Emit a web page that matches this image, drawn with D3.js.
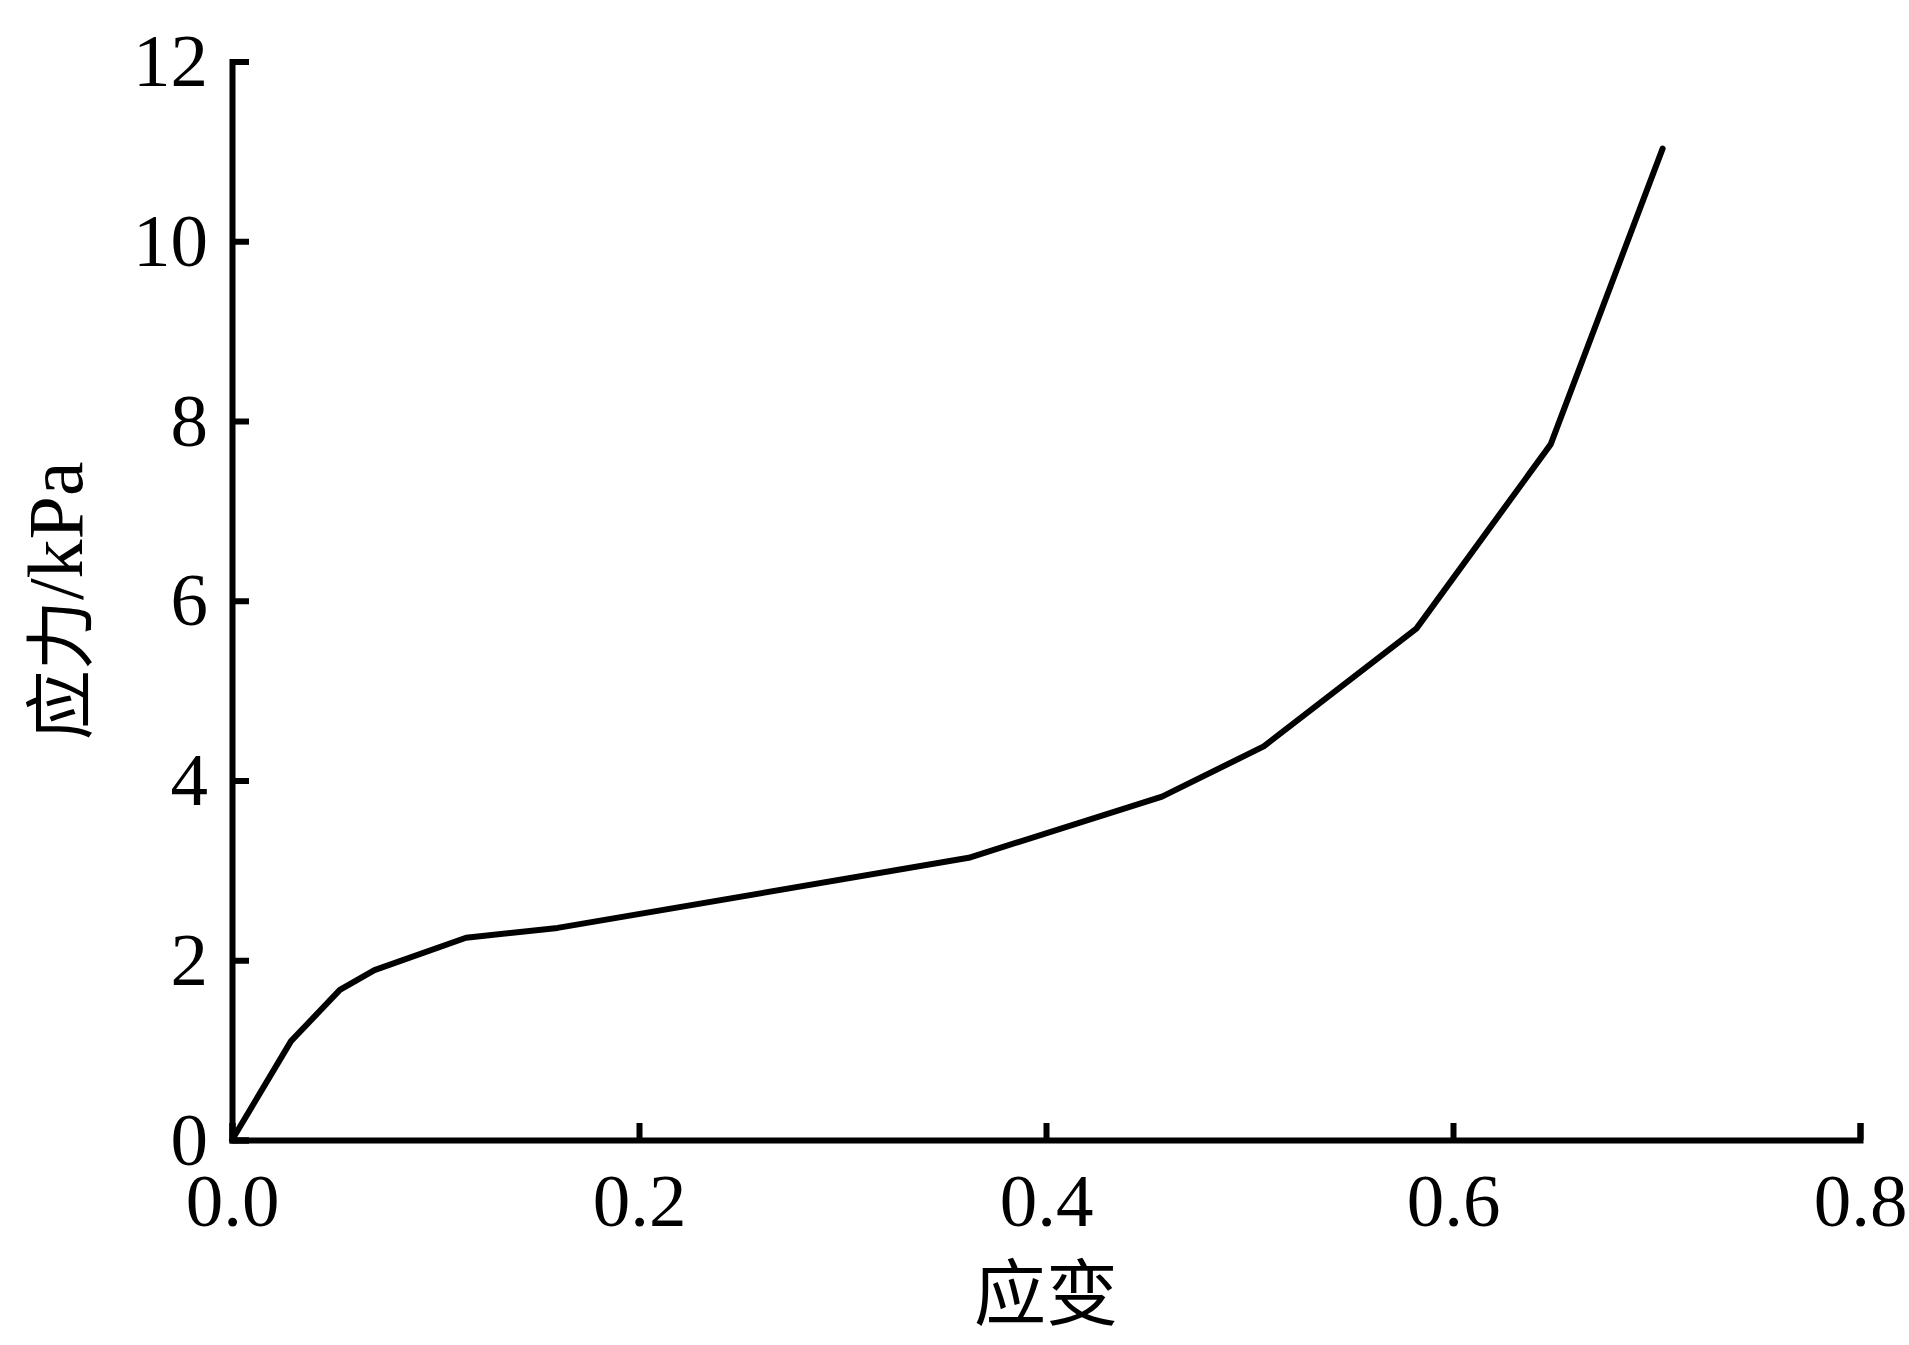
<!DOCTYPE html>
<html>
<head>
<meta charset="utf-8">
<script src="https://cdn.jsdelivr.net/npm/d3@7"></script>
<style>
  body { margin: 0; background: #fff; }
</style>
</head>
<body>
<div id="chart"></div>
<script>
// values
const strain = [0, 0.029, 0.053, 0.070, 0.115, 0.160, 0.362, 0.457, 0.507, 0.582, 0.648, 0.703];
const stress = [0, 1.10, 1.67, 1.89, 2.25, 2.36, 3.14, 3.82, 4.38, 5.69, 7.74, 11.03];
const xTicks = [0, 0.2, 0.4, 0.6, 0.8];
const yTicks = [0, 2, 4, 6, 8, 10, 12];
const xTitle = '应变';
const yTitle = '应力';
const yUnit = '/kPa';

const width = 1909, height = 1345;
const margin = {left: 232, right: 49, top: 61.5, bottom: 205};
const serif = '"Liberation Serif", "Times New Roman", serif';
const cjk = '"Noto Sans CJK SC", "Noto Sans CJK JP", sans-serif';

const svg = d3.select('#chart')
    .append('svg')
    .attr('width', width)
    .attr('height', height);

var x = d3.scaleLinear()
    .domain([0, 0.8])
    .range([margin.left, width - margin.right]);

var y = d3.scaleLinear()
    .domain([0, 12])
    .range([height - margin.bottom, margin.top]);

// x axis, ticks pointing inwards
var xAxis = svg.append('g')
    .attr('transform', 'translate(0,' + y(0) + ')')
    .call(d3.axisBottom(x)
        .tickValues(xTicks)
        .tickFormat(d3.format('.1f'))
        .tickSizeInner(-17)
        .tickSizeOuter(-17)
        .tickPadding(33));

var yAxis = svg.append('g')
    .attr('transform', 'translate(' + x(0) + ',0)')
    .call(d3.axisLeft(y)
        .tickValues(yTicks)
        .tickFormat(d3.format('d'))
        .tickSizeInner(-17)
        .tickSizeOuter(-17)
        .tickPadding(24));

[xAxis, yAxis].forEach(function(g) {
    g.select('.domain').attr('stroke', '#000').attr('stroke-width', 6).attr('fill', 'none');
    g.selectAll('.tick line').attr('stroke', '#000').attr('stroke-width', 6);
    g.selectAll('.tick text')
        .attr('fill', '#000')
        .attr('font-family', serif)
        .attr('font-size', 75);
});

// stress-strain curve
var line = d3.line()
    .x(function(d, i) { return x(strain[i]); })
    .y(function(d) { return y(d); });

svg.append('path')
    .datum(stress)
    .attr('d', line)
    .attr('fill', 'none')
    .attr('stroke', '#000')
    .attr('stroke-width', 6)
    .attr('stroke-linejoin', 'round')
    .attr('stroke-linecap', 'round');

// axis titles
svg.append('text')
    .attr('x', (x(0) + x(0.8)) / 2)
    .attr('y', 1319)
    .attr('text-anchor', 'middle')
    .attr('font-family', cjk)
    .attr('font-size', 72)
    .attr('fill', '#000')
    .text(xTitle);

var yLab = svg.append('text')
    .attr('transform', 'translate(82,' + ((y(0) + y(12)) / 2) + ') rotate(-90)')
    .attr('text-anchor', 'middle')
    .attr('fill', '#000');
yLab.append('tspan')
    .attr('font-family', cjk)
    .attr('font-size', 70)
    .attr('dy', 4)
    .text(yTitle);
yLab.append('tspan')
    .attr('font-family', serif)
    .attr('font-size', 78)
    .attr('dy', -4)
    .text(yUnit);
</script>
</body>
</html>
